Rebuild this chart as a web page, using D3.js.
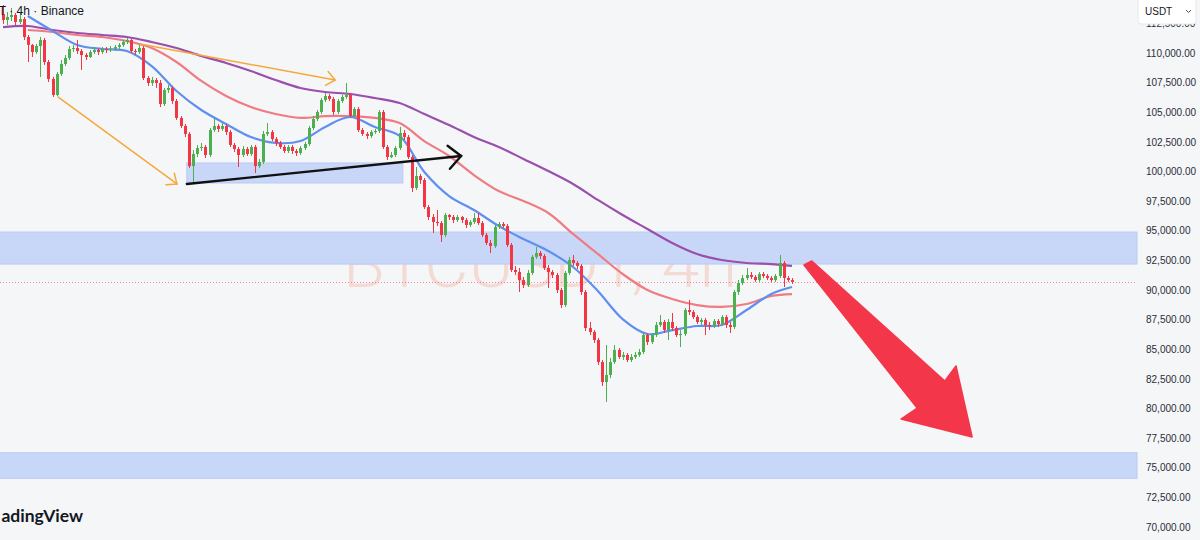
<!DOCTYPE html>
<html>
<head>
<meta charset="utf-8">
<script src="https://cdn.jsdelivr.net/npm/d3@7"></script>
<style>
  html, body { margin: 0; padding: 0; background: #f5f6f8; }
  svg { display: block; }
</style>
</head>
<body>
<svg id="chart" width="1200" height="540"></svg>
<script>
// BTCUSDT 4h candles (open of each bar = previous close)
var firstOpen = 113290;

var closes = [
  112790,113040,113210,112620,112870,111350,110680,110080,110590,111100,
  109240,107810,106460,108230,109070,109580,110340,110420,110170,109830,
  109660,110080,110250,110080,110340,110250,110340,110510,110680,110930,
  111100,110170,110080,110420,107890,107470,107720,107470,105700,106880,
  107050,105950,104520,103840,103170,100460,101480,101980,102070,101390,
  103500,103840,103590,103840,103330,102240,101900,101390,101900,101480,
  102070,100460,100800,103170,103330,102740,102410,102070,101730,102070,
  101730,101560,101980,102320,103670,104430,105020,106030,106370,106120,
  105020,105950,106290,106460,104680,105270,103500,103170,103000,103330,
  103420,105020,102070,101220,101390,101980,103250,102910,101220,98610,
  99620,99280,97000,96160,95740,95650,94640,96330,96160,95910,
  96160,95910,95490,95740,96080,95650,94640,93970,93710,95320,
  95570,95400,93800,91690,91520,90840,90420,91440,92790,93120,
  92870,91860,91520,91270,90000,88730,91440,92530,92280,92030,
  89830,86790,86460,85780,83920,82240,82830,83920,84940,84350,
  84520,84090,84350,84520,84770,86200,85610,86200,87050,87300,
  86620,87300,86790,86200,86290,88310,88140,87720,87300,87470,
  87050,86960,87380,87130,87720,87050,86880,89830,90590,91010,
  91270,91100,90840,91350,91180,91010,90840,91180,92280,91010,
  90840,90680
];

var highs = [
  114050,113460,113800,113380,113460,113040,111520,110760,110760,111350,
  111270,109410,107980,108400,109410,109830,110590,110680,111100,110340,
  110000,110250,110510,110420,110510,110510,110590,110680,110840,111100,
  111270,111180,110340,110680,110590,108060,107980,107890,107720,107050,
  107300,107220,106120,104680,104010,103330,101810,102240,102410,102240,
  103670,104520,104010,104090,104010,103500,102410,102070,102150,102070,
  102240,102240,101060,103420,104090,103500,102910,102570,102240,102240,
  102240,101900,102150,102490,103840,104680,105190,106200,106630,106540,
  106290,106120,106460,107470,106630,105440,105440,103670,103330,103500,
  103590,105190,105190,102240,101650,102150,103760,103500,103080,101390,
  100380,99790,99450,97170,96410,96750,95820,96500,96410,96330,
  96330,96250,96080,95910,96500,96500,95820,94810,94220,95490,
  95740,95740,95570,93970,92030,91860,91100,91690,92950,93630,
  93290,93040,92110,91690,91440,90170,91600,92790,92950,92450,
  92190,90000,87300,86620,85950,84090,85360,84260,85360,85110,
  84770,84680,84600,84770,85020,86370,86370,86370,87300,87890,
  87470,87550,88060,86960,86620,88480,89160,88310,87890,87640,
  87640,87300,87550,87550,87890,87890,87300,90000,90840,91270,
  91860,91520,91270,91520,91520,91350,91180,91350,92950,92450,
  91180,91010
];

var lows = [
  112450,112360,112700,112360,112450,111100,109240,109660,109920,107980,
  108990,107550,106290,106370,108060,108900,109410,110080,109920,108570,
  109410,109580,109920,109830,109920,110000,110080,110170,110340,110510,
  110760,110000,109830,109920,107720,107220,107220,107050,105440,105530,
  106630,105700,104350,103670,102910,100300,99030,101220,101730,101140,
  101220,103330,103330,103420,103080,102070,101650,100380,101220,101310,
  101310,99870,100300,100630,103000,102570,102150,101900,101560,101560,
  101480,101310,101390,101810,102150,103500,104260,104850,105870,105950,
  104770,104850,105780,106120,104520,104520,103330,103000,102740,102830,
  103170,103250,101900,100970,101140,101220,101810,102660,101060,98270,
  98440,98950,96840,95910,94810,95400,94050,94470,95910,95650,
  95740,95650,95230,95320,95570,95490,94470,93800,93120,93540,
  95150,95230,93630,91520,91270,89830,90170,90250,91270,92620,
  92620,91690,90170,91010,89750,88480,88570,91270,92030,91770,
  89580,86540,86200,85530,83670,81900,80550,82570,83760,84180,
  84090,83920,83920,84180,84350,84600,85360,85440,86030,86880,
  86370,85780,86540,86030,85190,86120,87890,87550,87130,87050,
  86200,86620,86790,86880,86960,86790,86370,86710,89580,90420,
  90840,90930,90680,90680,91010,90840,90680,90680,91010,90250,
  90680,90510
];

// moving averages, sampled at these bar indices
var maIndex = [0,6,12,18,24,30,36,42,48,54,60,66,72,78,84,90,96,102,108,114,120,126,132,138,144,150,156,162,168,174,180,186,191];
var maSlow = [112190,112280,111940,111690,111520,111350,110930,110420,109750,109160,108480,107720,107050,106710,106540,106200,105780,104850,103920,102910,102070,101060,100040,98950,97600,96330,95150,93970,93040,92530,92280,92190,92030];
var maMid = [null,111940,111770,111520,111350,111010,110420,109240,107640,106370,105440,104850,104520,104680,104680,104520,104090,102570,101310,99700,98350,97510,96500,94730,93040,91350,90000,89240,88730,88570,88820,89490,89660];
var maFast = [null,113120,111860,110680,110340,110170,108900,106790,105190,104010,102910,102410,102570,103760,104600,103760,103000,99960,97930,96750,95400,94300,93290,91940,89920,87550,86290,86620,86960,87050,88310,89660,90250];

// price axis
var yTicks = [70000,72500,75000,77500,80000,82500,85000,87500,90000,92500,95000,97500,100000,102500,105000,107500,110000,112500];

// drawings (bar index, price)
var zoneUpper = [92190, 94890];
var zoneLower = [74110, 76270];
var smallBox = { from: 44.5, to: 96.8, low: 99030, high: 100720 };
var orangeUpper = [[33.2, 110760], [80.4, 107720]];
var orangeLower = [[13.3, 106290], [42.1, 98950]];
var blackTrend = [[44.5, 98950], [110.9, 101310]];
var redArrow = [[193.9, 92110], [195.8, 92447], [228.0, 82320], [230.7, 83590], [234.6, 77600], [217.4, 79110], [221.3, 80040]];

// texts as they show in the cropped screenshot
var headerText = 'T · 4h · Binance';
var logoText = 'adingView';
var watermarkText = 'BTCUSDT, 4h';

var W = 1200, H = 540, plotRight = 1137;
var upColor = '#4caf50', downColor = '#f23645';

var svg = d3.select('#chart');

var x = d3.scaleLinear().domain([0, closes.length - 1]).range([3, 792]);
var y = d3.scaleLinear().domain([70000, 110000]).range([527, 53]);

var candles = closes.map(function(c, i) {
  var o = i === 0 ? firstOpen : closes[i - 1];
  return { i: i, o: o, c: c, h: Math.max(highs[i], o, c), l: Math.min(lows[i], o, c) };
});

svg.append('rect').attr('width', W).attr('height', H).attr('fill', '#f5f6f8');

// watermark
svg.append('text')
  .attr('x', 343).attr('y', 287)
  .attr('textLength', 394).attr('lengthAdjust', 'spacingAndGlyphs')
  .style('font', '300 64px Roboto, "Liberation Sans", sans-serif')
  .attr('fill', 'rgba(235,120,90,0.22)')
  .text(watermarkText);

// zones
function zone(range, x0, x1) {
  svg.append('rect')
    .attr('x', x0).attr('width', x1 - x0)
    .attr('y', y(range[1])).attr('height', y(range[0]) - y(range[1]))
    .attr('fill', '#c8d7f7')
    .attr('stroke', '#b9cbf4').attr('stroke-width', 1);
}
zone(zoneUpper, -2, plotRight);
zone(zoneLower, -2, plotRight);
zone([smallBox.low, smallBox.high], x(smallBox.from), x(smallBox.to));

// last price line
var lastY = Math.round(y(closes[closes.length - 1])) + 0.5;
svg.append('line')
  .attr('x1', 0).attr('x2', plotRight)
  .attr('y1', lastY).attr('y2', lastY)
  .attr('stroke', '#f23645').attr('stroke-opacity', 0.55)
  .attr('stroke-dasharray', '1,2');

// moving averages
function maLine(values, color) {
  var pts = maIndex.map(function(d, k) { return [d, values[k]]; });
  var line = d3.line()
    .defined(function(d) { return d[1] != null; })
    .x(function(d) { return x(d[0]); })
    .y(function(d) { return y(d[1]); })
    .curve(d3.curveCatmullRom.alpha(0.5));
  svg.append('path')
    .attr('d', line(pts))
    .attr('fill', 'none')
    .attr('stroke', color)
    .attr('stroke-width', 2.2)
    .attr('stroke-linejoin', 'round');
}
maLine(maSlow, '#9a4fae');
maLine(maMid, '#ef7c82');
maLine(maFast, '#5f8ff0');

// candles
var g = svg.append('g');
var bars = g.selectAll('g.candle').data(candles).enter().append('g');
bars.append('line')
  .attr('x1', function(d) { return Math.round(x(d.i)) + 0.5; })
  .attr('x2', function(d) { return Math.round(x(d.i)) + 0.5; })
  .attr('y1', function(d) { return y(d.h); })
  .attr('y2', function(d) { return y(d.l); })
  .attr('stroke', function(d) { return d.c >= d.o ? upColor : downColor; })
  .attr('stroke-width', 1);
bars.append('rect')
  .attr('x', function(d) { return Math.round(x(d.i)) - 1; })
  .attr('width', 3)
  .attr('y', function(d) { return y(Math.max(d.o, d.c)); })
  .attr('height', function(d) { return Math.max(1, Math.abs(y(d.o) - y(d.c))); })
  .attr('fill', function(d) { return d.c >= d.o ? upColor : downColor; });

// arrows
function toPx(p) { return [x(p[0]), y(p[1])]; }
function arrow(pts, color, width, head, spread) {
  var a = toPx(pts[0]), b = toPx(pts[1]);
  var ang = Math.atan2(b[1] - a[1], b[0] - a[0]);
  var l = [b[0] + head * Math.cos(ang + Math.PI - spread), b[1] + head * Math.sin(ang + Math.PI - spread)];
  var r = [b[0] + head * Math.cos(ang + Math.PI + spread), b[1] + head * Math.sin(ang + Math.PI + spread)];
  svg.append('path')
    .attr('d', d3.line()([a, b]))
    .attr('fill', 'none').attr('stroke', color).attr('stroke-width', width).attr('stroke-linecap', 'round');
  svg.append('path')
    .attr('d', d3.line()([l, b, r]))
    .attr('fill', 'none').attr('stroke', color).attr('stroke-width', width)
    .attr('stroke-linecap', 'round').attr('stroke-linejoin', 'miter');
}
arrow(orangeUpper, '#f6a83a', 1.5, 11, 0.7);
arrow(orangeLower, '#f6a83a', 1.5, 11, 0.7);
arrow(blackTrend, '#111111', 2.4, 17, 0.75);

svg.append('path')
  .attr('d', d3.line()(redArrow.map(toPx)) + 'Z')
  .attr('fill', '#f4364a')
  .attr('stroke', '#f4364a').attr('stroke-width', 1.5).attr('stroke-linejoin', 'round');

// header and logo text
svg.append('text')
  .attr('x', 84).attr('y', 15).attr('text-anchor', 'end')
  .style('font', '12px "Liberation Sans", Arial, sans-serif')
  .attr('fill', '#131722')
  .text(headerText);

svg.append('text')
  .attr('x', 83).attr('y', 522).attr('text-anchor', 'end')
  .style('font', 'bold 17.5px Lato, "Liberation Sans", sans-serif')
  .attr('fill', '#131722')
  .text(logoText);

// price axis
var yAxis = d3.axisRight(y)
  .tickValues(yTicks)
  .tickSize(0)
  .tickPadding(0)
  .tickFormat(d3.format(',.2f'));
var axisG = svg.append('g').attr('transform', 'translate(1146,0)').call(yAxis);
axisG.select('.domain').remove();
axisG.selectAll('text')
  .style('font', '10px "Liberation Sans", Arial, sans-serif')
  .attr('fill', '#2a2e39');

// currency box
svg.append('rect')
  .attr('x', 1138).attr('y', -4).attr('width', 58).attr('height', 28).attr('rx', 3)
  .attr('fill', '#ffffff').attr('stroke', '#e6e8ee');
svg.append('text')
  .attr('x', 1145).attr('y', 15)
  .style('font', '10px "Liberation Sans", Arial, sans-serif')
  .attr('fill', '#131722')
  .text('USDT');
svg.append('path')
  .attr('d', 'M1186,10 L1188.5,12.5 L1191,10')
  .attr('fill', 'none').attr('stroke', '#555').attr('stroke-width', 1);
</script>
</body>
</html>
